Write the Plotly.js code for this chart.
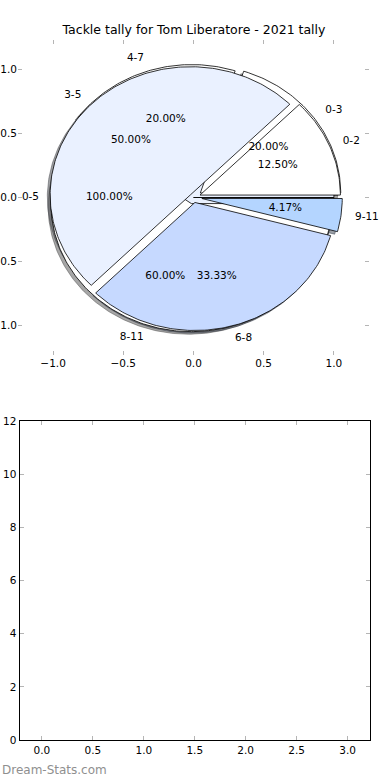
<!DOCTYPE html>
<html>
<head>
<meta charset="utf-8">
<script src="https://cdn.plot.ly/plotly-3.0.1.min.js"></script>
<style>html,body{margin:0;padding:0;background:#fff;}#chart{width:390px;height:780px;}</style>
</head>
<body>
<div id="chart"></div>
<script>
// ---- data ----
const chartTitle = 'Tackle tally for Tom Liberatore - 2021 tally';
const pie1Labels = ['0-5'];
const pie1Values = [1];
const pie1Colors = ['#eaf1ff'];
const pie1Explode = [0];

const pie3Labels = ['0-3', '4-7', '8-11'];
const pie3Values = [1, 1, 3];
const pie3Colors = ['#ffffff', '#ffffff', '#ffffff'];
const pie3Explode = [0.06, 0.04, 0.05];

const pie2Labels = ['0-2', '3-5', '6-8', '9-11'];
const pie2Values = [3, 12, 8, 1];
const pie2Colors = ['#ffffff', '#eaf1ff', '#c6d9ff', '#b4d5ff'];
const pie2Explode = [0.05, 0.03, 0.04, 0.06];

const pieTicks = [-1, -0.5, 0, 0.5, 1];
const barXTicks = [0, 0.5, 1, 1.5, 2, 2.5, 3];
const barYTicks = [0, 2, 4, 6, 8, 10, 12];

// ---- build pie wedges in data space ----
const FONT = 'DejaVu Sans, Verdana, sans-serif';
const pies = [
  {labels: pie1Labels, values: pie1Values, colors: pie1Colors, explode: pie1Explode},
  {labels: pie3Labels, values: pie3Values, colors: pie3Colors, explode: pie3Explode},
  {labels: pie2Labels, values: pie2Values, colors: pie2Colors, explode: pie2Explode}
];

function wedge(cx, cy, t1, t2) {
  const xs = [cx], ys = [cy];
  const n = Math.max(2, Math.ceil((t2 - t1) * 180 / Math.PI));
  for (let i = 0; i <= n; i++) {
    const t = t1 + (t2 - t1) * i / n;
    xs.push(cx + Math.cos(t));
    ys.push(cy + Math.sin(t));
  }
  xs.push(cx); ys.push(cy);
  return {xs, ys};
}
function darken(hex) {
  const r = parseInt(hex.substr(1,2),16), g = parseInt(hex.substr(3,2),16), b = parseInt(hex.substr(5,2),16);
  return 'rgba(' + Math.round(r*0.3) + ',' + Math.round(g*0.3) + ',' + Math.round(b*0.3) + ',0.5)';
}

const shadowTraces = [], wedgeTraces = [], textTraces = [];
pies.forEach(p => {
  const total = p.values.reduce((a, b) => a + b, 0);
  let acc = 0;
  p.values.forEach((v, i) => {
    const t1 = 2 * Math.PI * acc / total;
    acc += v;
    const t2 = 2 * Math.PI * acc / total;
    const tm = (t1 + t2) / 2;
    const cx = p.explode[i] * Math.cos(tm), cy = p.explode[i] * Math.sin(tm);
    const w = wedge(cx, cy, t1, t2);
    shadowTraces.push({type: 'scatter', mode: 'lines', xaxis: 'x', yaxis: 'y',
      x: w.xs.map(q => q - 0.02), y: w.ys.map(q => q - 0.02),
      fill: 'toself', fillcolor: darken(p.colors[i]),
      line: {color: darken(p.colors[i]), width: 1}, hoverinfo: 'skip'});
    wedgeTraces.push({type: 'scatter', mode: 'lines', xaxis: 'x', yaxis: 'y',
      x: w.xs, y: w.ys, fill: 'toself', fillcolor: p.colors[i],
      line: {color: '#000000', width: 0.8}, hoverinfo: 'skip'});
    const lx = cx + 1.1 * Math.cos(tm), ly = cy + 1.1 * Math.sin(tm);
    textTraces.push({type: 'scatter', mode: 'text', xaxis: 'x', yaxis: 'y', cliponaxis: false,
      x: [lx], y: [ly], text: [p.labels[i]],
      textposition: lx > 0 ? 'middle right' : 'middle left',
      textfont: {family: FONT, size: 10.5, color: '#000'}, hoverinfo: 'skip'});
    textTraces.push({type: 'scatter', mode: 'text', xaxis: 'x', yaxis: 'y', cliponaxis: false,
      x: [cx + 0.6 * Math.cos(tm)], y: [cy + 0.6 * Math.sin(tm)],
      text: [(100 * v / total).toFixed(2) + '%'], textposition: 'middle center',
      textfont: {family: FONT, size: 10.5, color: '#000'}, hoverinfo: 'skip'});
  });
});

const emptyTrace = {type: 'scatter', mode: 'markers', x: [], y: [], xaxis: 'x2', yaxis: 'y2', hoverinfo: 'skip'};

const tickFont = {family: FONT, size: 10.5, color: '#000'};
const W = 390, H = 780;
const layout = {
  width: W, height: H,
  margin: {l: 0, r: 0, t: 0, b: 0, pad: 0},
  paper_bgcolor: '#fff', plot_bgcolor: 'rgba(0,0,0,0)',
  showlegend: false, hovermode: false,
  title: {text: chartTitle, font: {family: FONT, size: 12.5, color: '#000'},
    x: 194 / W, xanchor: 'center', xref: 'paper', y: 1 - 30 / H, yanchor: 'middle', yref: 'container'},
  xaxis: {domain: [18 / W, 369 / W], range: [-1.25, 1.25], tickvals: pieTicks, tickformat: '.1f',
    showgrid: false, zeroline: false, showline: false, ticks: 'inside', ticklen: 4, tickwidth: 1,
    tickcolor: '#b5b5b5', mirror: 'ticks', tickfont: tickFont, anchor: 'y', fixedrange: true},
  yaxis: {domain: [1 - 355 / H, 1 - 40 / H], range: [-1.23, 1.23], tickvals: pieTicks, tickformat: '.1f',
    showgrid: false, zeroline: false, showline: false, ticks: 'inside', ticklen: 4, tickwidth: 1,
    tickcolor: '#b5b5b5', mirror: 'ticks', tickfont: tickFont, anchor: 'x', fixedrange: true},
  xaxis2: {domain: [19.5 / W, 370 / W], range: [-0.22, 3.22], tickvals: barXTicks, tickformat: '.1f',
    showgrid: false, zeroline: false, showline: true, linecolor: '#000', linewidth: 1,
    ticks: 'inside', ticklen: 4, tickwidth: 1, tickcolor: '#b5b5b5', mirror: 'ticks',
    tickfont: tickFont, anchor: 'y2', fixedrange: true},
  yaxis2: {domain: [1 - 740 / H, 1 - 421 / H], range: [0, 12], tickvals: barYTicks,
    showgrid: false, zeroline: false, showline: true, linecolor: '#000', linewidth: 1,
    ticks: 'inside', ticklen: 4, tickwidth: 1, tickcolor: '#b5b5b5', mirror: 'ticks',
    tickfont: tickFont, anchor: 'x2', fixedrange: true},
  annotations: [{text: 'Dream-Stats.com', xref: 'paper', yref: 'paper', x: 0, y: 1 - 770 / H,
    xanchor: 'left', yanchor: 'middle', showarrow: false,
    font: {family: FONT, size: 12, color: '#8f8f8f'}}]
};

Plotly.newPlot('chart', shadowTraces.concat(wedgeTraces, textTraces, [emptyTrace]), layout,
  {staticPlot: true, displayModeBar: false});
</script>
</body>
</html>
